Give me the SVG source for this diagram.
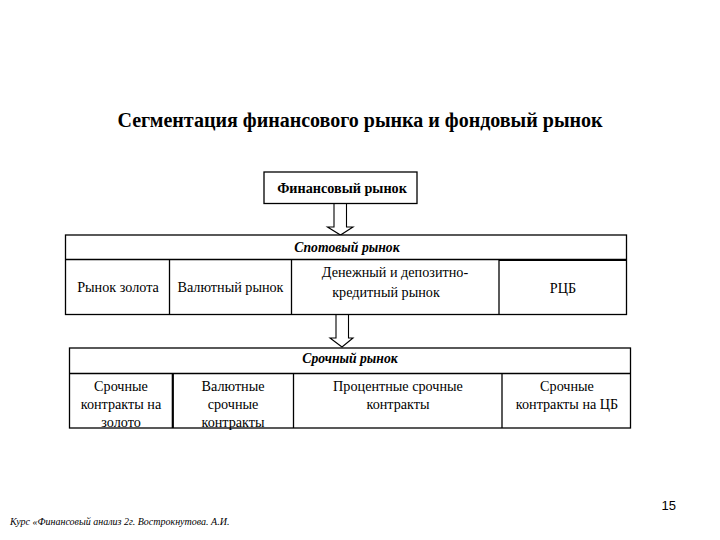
<svg xmlns="http://www.w3.org/2000/svg" width="720" height="540" viewBox="0 0 720 540">
<style>
.s{font-family:'Liberation Serif','Times New Roman',serif;fill:#000}
.c{text-anchor:middle;font-size:14.2px}
.box{fill:#fff;stroke:#000;stroke-width:1.3}
.ln{stroke:#000;stroke-width:1.3;fill:none}
.hd{font-style:italic;font-weight:bold;font-size:13.7px;text-anchor:middle}
.arr{fill:#fff;stroke:#000;stroke-width:1.1}
</style>
<rect width="720" height="540" fill="#fff"/>
<g class="s" font-family="'Liberation Serif', 'Times New Roman', serif">
<text id="title" x="360" y="127" text-anchor="middle" font-weight="bold" font-size="20">Сегментация финансового рынка и фондовый рынок</text>

<g id="connectors">
<path class="arr" d="M334,203.5 V227 H327.5 L340.5,235 L353,227 H346.5 V203.5"/>
<path class="arr" d="M336,314.5 V338 H330 L342,347 L353,338 H348.5 V314.5"/>
</g>

<g id="fin">
<rect class="box" x="264" y="172" width="153" height="31.5"/>
<text class="c" x="342" y="192.5" font-weight="bold" font-size="13.9">Финансовый рынок</text>
</g>

<g id="spot">
<rect class="box" x="65.5" y="235" width="561" height="79.5"/>
<line class="ln" x1="65.5" y1="259.5" x2="626.5" y2="259.5"/>
<line x1="499" y1="260" x2="626.5" y2="260" stroke="#000" stroke-width="2.2"/>
<line class="ln" x1="169.5" y1="259.5" x2="169.5" y2="314.5"/>
<line class="ln" x1="291.5" y1="259.5" x2="291.5" y2="314.5"/>
<line class="ln" x1="499" y1="259.5" x2="499" y2="314.5"/>
<text class="hd" x="347" y="252">Спотовый рынок</text>
<g id="spot-gold"><text class="c" x="118" y="292">Рынок золота</text></g>
<g id="spot-fx"><text class="c" x="230.5" y="292">Валютный рынок</text></g>
<g id="spot-money"><text class="c" x="395" y="277">Денежный и депозитно-</text><text class="c" x="386" y="297">кредитный рынок</text></g>
<g id="spot-rcb"><text class="c" x="563" y="293">РЦБ</text></g>
</g>

<g id="futures">
<rect class="box" x="69.5" y="348" width="561" height="80"/>
<line class="ln" x1="69.5" y1="373.5" x2="630.5" y2="373.5"/>
<line x1="172.8" y1="373.5" x2="172.8" y2="428" stroke="#000" stroke-width="2.2"/>
<line class="ln" x1="293.5" y1="373.5" x2="293.5" y2="428"/>
<line class="ln" x1="502" y1="373.5" x2="502" y2="428"/>
<text class="hd" x="350" y="363">Срочный рынок</text>
<g id="fut-gold"><text class="c" x="121" y="391">Срочные</text><text class="c" x="121" y="409">контракты на</text><text class="c" x="121" y="427">золото</text></g>
<g id="fut-fx"><text class="c" x="233" y="391">Валютные</text><text class="c" x="233" y="409">срочные</text><text class="c" x="233" y="427">контракты</text></g>
<g id="fut-rate"><text class="c" x="398" y="391">Процентные срочные</text><text class="c" x="398" y="409">контракты</text></g>
<g id="fut-cb"><text class="c" x="567" y="391">Срочные</text><text class="c" x="567" y="409">контракты на ЦБ</text></g>
</g>

<text x="10" y="525" font-style="italic" font-size="10">Курс «Финансовый анализ 2г. Вострокнутова. А.И.</text>
</g>
<text x="676" y="510" text-anchor="end" font-family="'Liberation Sans', Arial, sans-serif" font-size="13" fill="#000">15</text>
</svg>
